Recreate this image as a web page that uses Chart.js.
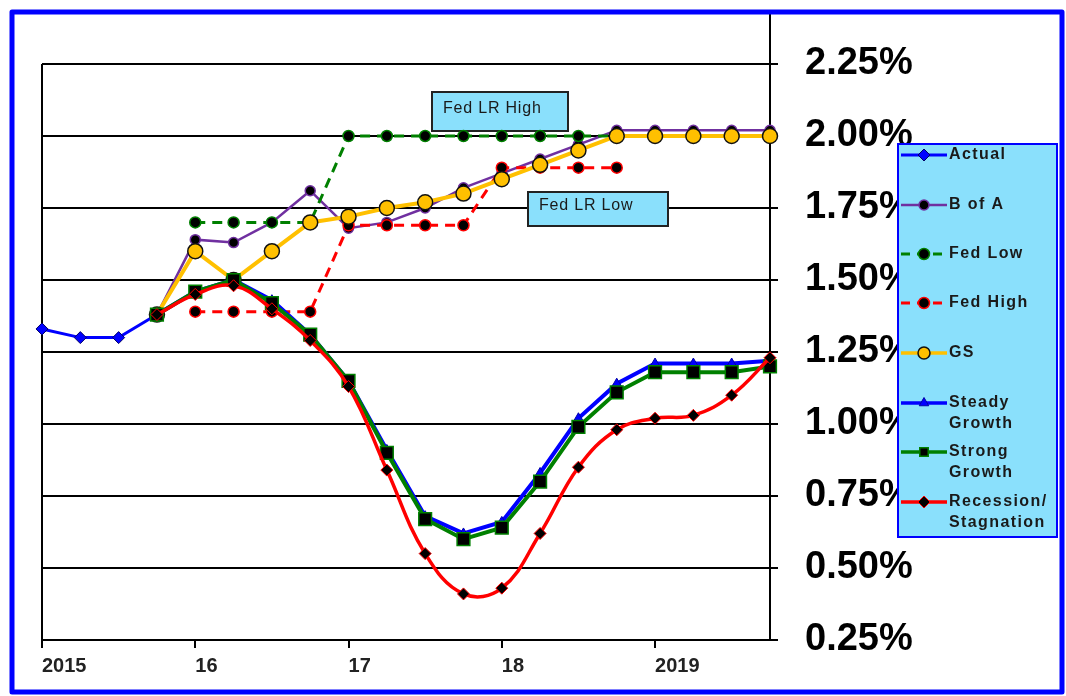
<!DOCTYPE html>
<html>
<head>
<meta charset="utf-8">
<script src="https://cdn.jsdelivr.net/npm/chart.js@4/dist/chart.umd.min.js"></script>
<style>
  html, body { margin: 0; padding: 0; background: #fff; }
  canvas { display: block; }
</style>
</head>
<body>
<canvas id="rates" width="1066" height="696" style="width:1066px;height:696px"></canvas>
<script>
// Quarterly index 0..19 (Q1 2015 .. Q4 2019); year labels sit on every 4th quarter
const yearLabels = ['2015', '16', '17', '18', '2019'];
const yearTicks = [0, 4, 8, 12, 16];

// Rate paths, in percent
const actual    = [1.33, 1.30, 1.30, 1.38, null, null, null, null, null, null, null, null, null, null, null, null, null, null, null, null];
const bofa      = [null, null, null, 1.38, 1.64, 1.63, 1.70, 1.81, 1.68, 1.70, 1.75, 1.82, 1.87, 1.92, 1.97, 2.02, 2.02, 2.02, 2.02, 2.02];
const fedLow    = [null, null, null, null, 1.70, 1.70, 1.70, 1.70, 2.00, 2.00, 2.00, 2.00, 2.00, 2.00, 2.00, 2.00, null, null, null, null];
const fedHigh   = [null, null, null, null, 1.39, 1.39, 1.39, 1.39, 1.69, 1.69, 1.69, 1.69, 1.89, 1.89, 1.89, 1.89, null, null, null, null];
const gs        = [null, null, null, 1.38, 1.60, 1.50, 1.60, 1.70, 1.72, 1.75, 1.77, 1.80, 1.85, 1.90, 1.95, 2.00, 2.00, 2.00, 2.00, 2.00];
const steady    = [null, null, null, 1.38, 1.46, 1.50, 1.43, 1.31, 1.15, 0.91, 0.68, 0.62, 0.66, 0.83, 1.02, 1.14, 1.21, 1.21, 1.21, 1.22];
const strong    = [null, null, null, 1.38, 1.46, 1.50, 1.42, 1.31, 1.15, 0.90, 0.67, 0.60, 0.64, 0.80, 0.99, 1.11, 1.18, 1.18, 1.18, 1.20];
const recession = [null, null, null, 1.38, 1.45, 1.48, 1.40, 1.29, 1.13, 0.84, 0.55, 0.41, 0.43, 0.62, 0.85, 0.98, 1.02, 1.03, 1.10, 1.23];

// Legend text, one entry per series, split into display lines
const legendLines = [['Actual'], ['B of A'], ['Fed Low'], ['Fed High'], ['GS'], ['Steady', 'Growth'], ['Strong', 'Growth'], ['Recession/', 'Stagnation']];

// Callout boxes
const callouts = [
  { text: 'Fed LR High', x0: 432, y0: 92, x1: 568, y1: 131 },
  { text: 'Fed LR Low',  x0: 528, y0: 192, x1: 668, y1: 226 }
];

const pts = arr => arr.map((v, i) => (v == null ? null : { x: i, y: v })).filter(Boolean);

const LIGHT_BLUE = '#8ae0fc';

const series = [
  { data: actual, borderColor: '#0000ff', borderWidth: 3, pointStyle: 'rectRot', pointRadius: 6,
    pointBackgroundColor: '#0000ff', pointBorderColor: '#000066', pointBorderWidth: 1 },
  { data: bofa, borderColor: '#7030a0', borderWidth: 2.5, pointStyle: 'circle', pointRadius: 5,
    pointBackgroundColor: '#000', pointBorderColor: '#7030a0', pointBorderWidth: 1.5 },
  { data: fedLow, borderColor: '#008000', borderWidth: 3, borderDash: [10, 7], pointStyle: 'circle', pointRadius: 5.5,
    pointBackgroundColor: '#000', pointBorderColor: '#008000', pointBorderWidth: 1.5 },
  { data: fedHigh, borderColor: '#ff0000', borderWidth: 3, borderDash: [10, 7], pointStyle: 'circle', pointRadius: 5.5,
    pointBackgroundColor: '#000', pointBorderColor: '#ff0000', pointBorderWidth: 1.5 },
  { data: gs, borderColor: '#ffc000', borderWidth: 4, pointStyle: 'circle', pointRadius: 7.5,
    pointBackgroundColor: '#ffc000', pointBorderColor: '#111', pointBorderWidth: 1.5 },
  { data: steady, borderColor: '#0000ff', borderWidth: 4, pointStyle: 'triangle', pointRadius: 5.5,
    pointBackgroundColor: '#0000ff', pointBorderColor: '#0000aa', pointBorderWidth: 1 },
  { data: strong, borderColor: '#008000', borderWidth: 4, pointStyle: 'rect', pointRadius: 9,
    pointBackgroundColor: '#000', pointBorderColor: '#008000', pointBorderWidth: 1.5 },
  { data: recession, borderColor: '#ff0000', borderWidth: 3.5, tension: 0.4, pointStyle: 'rectRot', pointRadius: 6,
    pointBackgroundColor: '#000', pointBorderColor: '#ff0000', pointBorderWidth: 1 }
];

const datasets = series.map((s, i) => Object.assign({
  label: legendLines[i].join(' '),
  tension: 0,
  fill: false,
  clip: false,
  order: series.length - i
}, s, { data: pts(s.data) }));

const framePlugin = {
  id: 'frame',
  beforeDraw(chart) {
    const ctx = chart.ctx;
    ctx.save();
    ctx.fillStyle = '#fff';
    ctx.fillRect(0, 0, chart.width, chart.height);
    ctx.restore();
  },
  beforeDatasetsDraw(chart) {
    const { ctx, chartArea } = chart;
    ctx.save();
    ctx.strokeStyle = '#000';
    ctx.lineWidth = 2;
    ctx.beginPath();
    ctx.moveTo(chartArea.left, chartArea.top);
    ctx.lineTo(chartArea.left, chartArea.bottom);
    ctx.moveTo(chartArea.right, 13);
    ctx.lineTo(chartArea.right, chartArea.bottom);
    ctx.stroke();
    // callout boxes
    ctx.letterSpacing = '0.8px';
    callouts.forEach(c => {
      ctx.fillStyle = LIGHT_BLUE;
      ctx.fillRect(c.x0, c.y0, c.x1 - c.x0, c.y1 - c.y0);
      ctx.strokeStyle = '#222';
      ctx.lineWidth = 2;
      ctx.strokeRect(c.x0, c.y0, c.x1 - c.x0, c.y1 - c.y0);
      ctx.fillStyle = '#1a1a1a';
      ctx.font = '16px "Liberation Sans", Arial, sans-serif';
      ctx.textAlign = 'left';
      ctx.textBaseline = 'middle';
      ctx.fillText(c.text, c.x0 + 11, (c.y0 + c.y1) / 2 - 3);
    });
    ctx.restore();
  },
  afterDraw(chart) {
    const ctx = chart.ctx;
    ctx.save();
    // legend
    const lx0 = 898, ly0 = 144, lx1 = 1057, ly1 = 537;
    ctx.fillStyle = LIGHT_BLUE;
    ctx.fillRect(lx0, ly0, lx1 - lx0, ly1 - ly0);
    ctx.strokeStyle = '#0000ff';
    ctx.lineWidth = 2;
    ctx.strokeRect(lx0, ly0, lx1 - lx0, ly1 - ly0);
    const rowY = [155, 205, 254, 303, 353, 403, 452, 502];
    chart.data.datasets.forEach((ds, i) => {
      const y = rowY[i];
      ctx.save();
      ctx.strokeStyle = ds.borderColor;
      ctx.lineWidth = Math.min(ds.borderWidth, 3.5);
      if (ds.borderDash) ctx.setLineDash([9, 7]);
      ctx.beginPath();
      ctx.moveTo(901, y);
      ctx.lineTo(947, y);
      ctx.stroke();
      ctx.setLineDash([]);
      ctx.fillStyle = ds.pointBackgroundColor;
      ctx.strokeStyle = ds.pointBorderColor;
      ctx.lineWidth = ds.pointBorderWidth;
      Chart.helpers.drawPoint(ctx, {
        pointStyle: ds.pointStyle,
        radius: Math.min(ds.pointRadius, 6),
        rotation: 0,
        borderWidth: ds.pointBorderWidth
      }, 924, y);
      ctx.restore();
      ctx.fillStyle = '#1a1a1a';
      ctx.font = 'bold 16px "Liberation Sans", Arial, sans-serif';
      ctx.letterSpacing = '1.4px';
      ctx.textAlign = 'left';
      ctx.textBaseline = 'middle';
      legendLines[i].forEach((t, k) => ctx.fillText(t, 949, y + k * 21));
    });
    // outer frame
    ctx.letterSpacing = '0px';
    ctx.strokeStyle = '#0000ff';
    ctx.lineWidth = 5;
    ctx.lineJoin = 'round';
    ctx.strokeRect(12, 12, 1050, 680);
    ctx.restore();
  }
};

new Chart(document.getElementById('rates'), {
  type: 'line',
  data: { datasets },
  options: {
    responsive: false,
    devicePixelRatio: 1,
    animation: false,
    layout: { padding: { left: 42, top: 64, right: 0, bottom: 0 } },
    plugins: { legend: { display: false }, tooltip: { enabled: false } },
    scales: {
      x: {
        type: 'linear',
        min: 0,
        max: 19,
        afterBuildTicks: scale => { scale.ticks = yearTicks.map(v => ({ value: v })); },
        afterFit: scale => { scale.height = 56; },
        grid: { drawOnChartArea: false, drawTicks: true, tickLength: 8, color: '#000', lineWidth: 2 },
        border: { display: true, color: '#000', width: 2 },
        ticks: {
          autoSkip: false,
          maxRotation: 0,
          align: 'start',
          padding: 6,
          color: '#222',
          font: { family: '"Liberation Sans", Arial, sans-serif', size: 20, weight: 'bold' },
          callback: v => yearLabels[yearTicks.indexOf(v)]
        }
      },
      y: {
        position: 'right',
        min: 0.25,
        max: 2.25,
        afterFit: scale => { scale.width = 296; },
        grid: { color: '#000', lineWidth: 2, tickLength: 8, drawTicks: true },
        border: { display: true, color: '#000', width: 2 },
        ticks: {
          stepSize: 0.25,
          padding: 27,
          color: '#000',
          font: { family: '"Liberation Sans", Arial, sans-serif', size: 38, weight: 'bold' },
          callback: v => v.toFixed(2) + '%'
        }
      }
    }
  },
  plugins: [framePlugin]
});
</script>
</body>
</html>
